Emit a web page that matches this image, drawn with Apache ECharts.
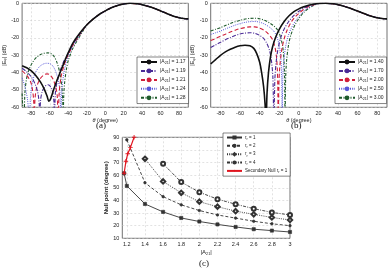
<!DOCTYPE html>
<html><head><meta charset="utf-8">
<script src="https://cdn.jsdelivr.net/npm/echarts@6/dist/echarts.min.js"></script>
<style>html,body{margin:0;padding:0;background:#fff}#c{width:390px;height:269px}</style>
</head><body><div id="c"></div>
<script>
// ---------- tick labels ----------
const thetaTicks = [-80,-60,-40,-20,0,20,40,60,80];
const a21TickVals = [1.2,1.4,1.6,1.8,2,2.2,2.4,2.6,2.8,3];
const a21TickLabels = ['1.2','1.4','1.6','1.8','2','2.2','2.4','2.6','2.8','3'];

// ---------- (a) |E_phi| (dB) vs theta ----------
const namesA = ['|A21| = 1.17','|A21| = 1.19','|A21| = 1.21','|A21| = 1.24','|A21| = 1.28'];
const tailA = [[-20,-12.5],[-15,-10],[-10,-7.8],[-5,-5.9],[0,-4.4],[5,-3],[10,-1.9],[15,-1],[20,-0.4],[27,0],[35,-0.3],[40,-0.8],[45,-1.5],[50,-2.3],[55,-3.3],[60,-4.4],[65,-5.5],[70,-6.6],[75,-7.6],[80,-8.3],[85,-8.8],[90,-9]];
const a117 = [[-90,-36],[-85,-37.2],[-80,-39],[-75,-41.8],[-70,-45.5],[-66,-49.5],[-63,-53.5],[-61,-56.5],[-59,-55],[-56,-50],[-53,-45.5],[-50,-41.5],[-47,-37.5],[-44,-33.5],[-40,-28.5],[-35,-23],[-30,-19],[-25,-15.5]];
const a119 = [[-90,-37.5],[-85,-39.5],[-80,-42.5],[-76,-46.5],[-73,-51.5],[-71.5,-58],[-71,-70],[-70,-56],[-68,-50.5],[-65,-47.8],[-62,-47],[-59,-48.2],[-57,-51],[-55.5,-57],[-55,-70],[-54,-52],[-52,-45],[-49,-39.5],[-46,-35],[-43,-31.5],[-40,-29],[-35,-23.6],[-30,-19.5],[-25,-15.8]];
const a121 = [[-90,-39],[-85,-41.5],[-81,-45],[-79,-49],[-77.5,-56],[-77,-70],[-76,-55],[-74,-48],[-71,-44],[-67,-41.5],[-63,-40.7],[-60,-41.2],[-57,-43.2],[-54,-47.5],[-52,-53],[-51,-70],[-50,-53],[-48,-43],[-45,-36.5],[-42,-32],[-40,-29.7],[-35,-24.2],[-30,-20],[-25,-16]];
const a124 = [[-90,-43],[-87,-48],[-84,-56],[-82,-70],[-81,-55],[-79,-46],[-76,-40.5],[-72,-37],[-68,-35.3],[-64,-34.6],[-60,-34.8],[-57,-36],[-54,-38.8],[-51,-44],[-49,-51],[-48,-70],[-47,-51],[-45,-41],[-42,-33.5],[-40,-30.5],[-35,-24.8],[-30,-20.4],[-25,-16.2]];
const a128 = [[-90,-52],[-88,-70],[-87,-52],[-85,-43],[-82,-37.5],[-78,-33.5],[-74,-31],[-70,-29.6],[-66,-28.8],[-62,-28.6],[-58,-29.3],[-55,-31],[-52,-34.5],[-49,-40.5],[-47,-48],[-46,-56],[-45.5,-70],[-45,-55],[-44,-46],[-42,-38],[-40,-33],[-37,-28.5],[-35,-26],[-30,-21.2],[-25,-16.8]];

// ---------- (b) ----------
const namesB = ['|A21| = 1.40','|A21| = 1.70','|A21| = 2.00','|A21| = 2.50','|A21| = 3.00'];
const tailB = [[20,-0.15],[27,0],[35,-0.3],[40,-0.8],[45,-1.5],[50,-2.4],[55,-3.4],[60,-4.5],[65,-5.6],[70,-6.7],[75,-7.6],[80,-8.3],[85,-8.8],[90,-9]];
const b140 = [[-90,-35],[-85,-32.5],[-80,-30],[-75,-28],[-70,-26.5],[-65,-25.3],[-60,-24.5],[-55,-24.2],[-50,-24.5],[-46,-26],[-43,-29],[-40,-34],[-38,-40],[-36,-48],[-34.5,-58],[-33.5,-70],[-32.5,-52],[-31,-40],[-29,-31],[-27,-25.5],[-24,-20],[-20,-15],[-15,-10.5],[-10,-7.2],[-5,-4.8],[0,-3.2],[5,-2],[10,-1.1],[15,-0.5]];
const b170 = [[-90,-25.5],[-85,-24],[-80,-22.5],[-75,-21],[-70,-19.8],[-65,-18.6],[-60,-17.7],[-55,-17.2],[-50,-17],[-45,-17.3],[-40,-18.5],[-36,-20.3],[-33,-22.8],[-30,-27],[-28,-33],[-26.5,-43],[-25.5,-70],[-24.5,-44],[-23,-33],[-21,-25.5],[-18,-19],[-15,-14.8],[-10,-10.2],[-5,-7],[0,-4.6],[5,-2.8],[10,-1.5],[15,-0.7]];
const b200 = [[-90,-21.5],[-85,-20.3],[-80,-19],[-75,-17.8],[-70,-16.6],[-65,-15.5],[-60,-14.6],[-55,-14],[-50,-13.6],[-45,-13.6],[-40,-14.3],[-35,-15.8],[-31,-17.8],[-27,-20.8],[-24.5,-25],[-23,-30],[-22,-38],[-21.5,-48],[-21,-70],[-20.5,-48],[-19.5,-37],[-17.5,-27],[-15,-20.5],[-12,-15.5],[-8,-11],[-4,-8],[0,-5.8],[5,-3.5],[10,-1.9],[15,-0.9]];
const b250 = [[-90,-18],[-85,-17],[-80,-16],[-75,-14.8],[-70,-13.7],[-65,-12.6],[-60,-11.7],[-55,-11],[-50,-10.6],[-45,-10.5],[-40,-10.9],[-35,-12],[-30,-13.8],[-26,-15.8],[-23,-18.5],[-20.5,-23],[-19,-28],[-18,-35],[-17.5,-44],[-17,-70],[-16.5,-45],[-15.5,-34],[-13.5,-25],[-11,-19],[-7,-13.5],[-3,-9.8],[0,-7.6],[5,-4.6],[10,-2.5],[15,-1.1]];
const b300 = [[-90,-16],[-85,-15],[-80,-14],[-75,-12.8],[-70,-11.7],[-65,-10.6],[-60,-9.8],[-55,-9.1],[-50,-8.7],[-45,-8.6],[-40,-8.9],[-35,-9.8],[-30,-11.3],[-25,-13.3],[-21,-16],[-18.5,-19.8],[-16.5,-25],[-15.3,-32],[-14.6,-42],[-14,-70],[-13.5,-44],[-12.5,-33],[-10.5,-24],[-8,-18],[-4,-12.5],[0,-8.8],[5,-5.3],[10,-2.9],[15,-1.3]];

// ---------- (c) null point vs |A21| ----------
const namesC = ['r_r = 1','r_r = 2','r_r = 3','r_r = 4','Secondary Null r_r = 1'];
const c1 = [[1.17,61.5],[1.2,51.5],[1.4,37.2],[1.6,30.9],[1.8,26.1],[2,23.3],[2.2,21],[2.4,19],[2.6,17.2],[2.8,16.1],[3,15]];
const c2 = [[1.2,88],[1.4,54],[1.6,43],[1.8,36.5],[2,32],[2.2,28.5],[2.4,26],[2.6,23.5],[2.8,21.5],[3,20]];
const c3 = [[1.4,73],[1.6,55],[1.8,46],[2,39],[2.2,35],[2.4,31.5],[2.6,29],[2.8,26.5],[3,24.5]];
const c4 = [[1.6,69],[1.8,54.5],[2,46.5],[2.2,41],[2.4,37],[2.6,33.5],[2.8,30.5],[3,28.5]];
const cSec = [[1.17,61.5],[1.19,71],[1.21,77],[1.24,82],[1.28,90]];

const FF = 'Liberation Sans';
const FS = 5.5;
const subRich = { s: { fontSize: 3.8, fontFamily: FF, padding: [2.5, 0, 0, 0], color: '#222' },
                  i: { fontStyle: 'italic', fontSize: FS, fontFamily: FF, color: '#222' } };
const gridLine = { show: true, lineStyle: { color: '#cfcfcf', width: 0.6, type: [2, 2] } };

function legendFmt(n) { return n.replace('A21', 'A{s|21}').replace('r_r', 'r{s|r}'); }

const abStyles = [
  { color: '#111111', width: 1.6, type: 'solid' },
  { color: '#4a2a96', width: 1.1, type: [4, 1.5, 1, 1.5] },
  { color: '#d01e3a', width: 1.1, type: [4, 2.5] },
  { color: '#5757d8', width: 1.0, type: [1, 1.2] },
  { color: '#1d5a2a', width: 1.1, type: [3, 1.5, 1, 1.5] }
];

function thetaAxis(gi) {
  return { gridIndex: gi, type: 'value', min: -90, max: 90, interval: 10,
    axisLine: { show: false }, axisTick: { show: false },
    axisLabel: { fontSize: FS, fontFamily: FF, color: '#222', margin: 3,
      formatter: v => thetaTicks.includes(Math.round(v)) ? String(Math.round(v)) : '' },
    splitLine: { show: true, lineStyle: { color: ['rgba(0,0,0,0)', '#cfcfcf'], width: 0.6, type: [2, 2] } },
    name: '{i|θ} (degree)', nameLocation: 'middle', nameGap: 9,
    nameTextStyle: { fontSize: FS, fontFamily: FF, color: '#222', rich: subRich } };
}
function dbAxis(gi) {
  return { gridIndex: gi, type: 'value', min: -60, max: 0, interval: 10,
    axisLine: { show: false }, axisTick: { show: false },
    axisLabel: { fontSize: FS, fontFamily: FF, color: '#222', margin: 3 },
    splitLine: gridLine,
    name: '|E{s|φ}| (dB)', nameLocation: 'middle', nameGap: 9, nameRotate: 90,
    nameTextStyle: { fontSize: FS, fontFamily: FF, color: '#222', rich: subRich } };
}

const series = [];
[a117, a119, a121, a124, a128].forEach((d, k) => {
  series.push({ name: namesA[k], type: 'line', xAxisIndex: 0, yAxisIndex: 0, data: d.concat(tailA),
    symbol: 'none', smooth: 0.3, lineStyle: abStyles[k], itemStyle: { color: abStyles[k].color }, z: 10 - k });
});
[b140, b170, b200, b250, b300].forEach((d, k) => {
  series.push({ name: namesB[k], type: 'line', xAxisIndex: 1, yAxisIndex: 1, data: d.concat(tailB),
    symbol: 'none', smooth: 0.3, lineStyle: abStyles[k], itemStyle: { color: abStyles[k].color }, z: 10 - k });
});
const plusPath = 'path://M4,0H6V4H10V6H6V10H4V6H0V4H4Z';
const cStyles = [
  { data: c1, type: 'solid', symbol: 'rect', size: 3.2 },
  { data: c2, type: [3, 2], symbol: 'circle', size: 2.6 },
  { data: c3, type: [1, 1.2], symbol: 'emptyDiamond', size: 4.4 },
  { data: c4, type: [3, 1.3, 1, 1.3], symbol: 'emptyCircle', size: 4 }
];
cStyles.forEach((s, k) => {
  series.push({ name: namesC[k], type: 'line', xAxisIndex: 2, yAxisIndex: 2, data: s.data,
    symbol: s.symbol, symbolSize: s.size, showSymbol: true,
    lineStyle: { color: '#333', width: 0.9, type: s.type },
    itemStyle: { color: '#333', borderColor: '#333', borderWidth: 0.6 } });
});
series.push({ name: namesC[4], type: 'line', xAxisIndex: 2, yAxisIndex: 2, data: cSec,
  symbol: plusPath, symbolSize: 4.5, lineStyle: { color: '#e0141e', width: 1.2 },
  itemStyle: { color: '#e0141e' }, z: 12 });

function legend(names, left, top, itemWidth, itemHeight, gap, fs, pad) {
  return { data: names, orient: 'vertical', left: left, top: top, itemWidth: itemWidth, itemHeight: itemHeight,
    itemGap: gap, padding: pad, borderColor: '#333', borderWidth: 0.6, backgroundColor: '#fff',
    formatter: legendFmt, selectedMode: false,
    textStyle: { fontSize: fs, fontFamily: FF, color: '#222', padding: [0, 0, 0, -2], rich: subRich } };
}

const capStyle = { fontFamily: 'Liberation Serif', fontSize: 9, fontWeight: 'normal', color: '#111' };
const option = {
  animation: false,
  backgroundColor: '#fff',
  textStyle: { fontFamily: FF },
  title: [
    { text: '(a)', left: 96, top: 121, textStyle: capStyle, padding: 0 },
    { text: '(b)', left: 291, top: 121, textStyle: capStyle, padding: 0 },
    { text: '(c)', left: 199, top: 259, textStyle: capStyle, padding: 0 }
  ],
  grid: [
    { left: 15.7, top: 3.3, width: 172.6, height: 104, show: true, borderColor: '#333', borderWidth: 0.7, backgroundColor: '#fff' },
    { left: 210.7, top: 3.3, width: 177.3, height: 104, show: true, borderColor: '#333', borderWidth: 0.7, backgroundColor: '#fff' },
    { left: 122.3, top: 137.3, width: 167.7, height: 101, show: true, borderColor: '#333', borderWidth: 0.7, backgroundColor: '#fff' }
  ],
  xAxis: [
    thetaAxis(0), thetaAxis(1),
    { gridIndex: 2, type: 'value', min: 1.15, max: 3, interval: 0.05,
      axisLine: { show: false }, axisTick: { show: false },
      axisLabel: { fontSize: FS, fontFamily: FF, color: '#222', margin: 3,
        formatter: v => { const i = a21TickVals.findIndex(t => Math.abs(t - v) < 1e-6); return i >= 0 ? a21TickLabels[i] : ''; } },
      splitLine: { show: true, lineStyle: { color: ['rgba(0,0,0,0)', '#cfcfcf', 'rgba(0,0,0,0)', 'rgba(0,0,0,0)'], width: 0.6, type: [2, 2] } },
      name: '|A{s|21}|', nameLocation: 'middle', nameGap: 11,
      nameTextStyle: { fontSize: 6, fontFamily: FF, color: '#222', rich: subRich } }
  ],
  yAxis: [
    dbAxis(0), dbAxis(1),
    { gridIndex: 2, type: 'value', min: 10, max: 90, interval: 10,
      axisLine: { show: false }, axisTick: { show: false },
      axisLabel: { fontSize: FS, fontFamily: FF, color: '#222', margin: 3 },
      splitLine: gridLine,
      name: 'Null point (degree)', nameLocation: 'middle', nameGap: 10, nameRotate: 90,
      nameTextStyle: { fontSize: 6, fontFamily: FF, color: '#222', fontWeight: 'bold' } }
  ],
  legend: [
    legend(namesA, 137, 57, 16, 6, 3.2, 5, [2.5, 3, 2.5, 3]),
    legend(namesB, 335, 57, 16, 6, 3.2, 5, [2.5, 3, 2.5, 3]),
    legend(namesC, 223, 133, 15, 2.6, 2.6, 4.5, [2, 3, 2, 3])
  ],
  series: series
};
const chart = echarts.init(document.getElementById('c'));
chart.setOption(option);
</script></body></html>
